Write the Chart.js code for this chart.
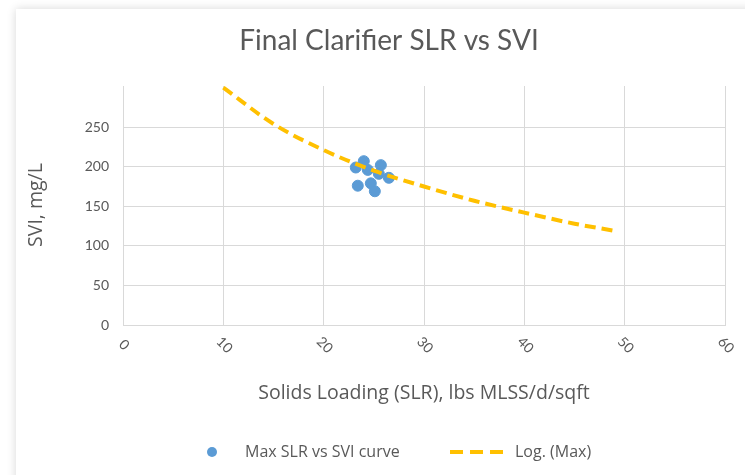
<!DOCTYPE html>
<html>
<head>
<meta charset="utf-8">
<script src="https://cdn.jsdelivr.net/npm/chart.js@4.4.1/dist/chart.umd.min.js"></script>
<style>
  html, body { margin: 0; padding: 0; background: #ffffff; overflow: hidden; }
  #card { position: absolute; left: 16px; top: 9px; width: 760px; height: 500px; background: #fff;
          box-shadow: 0 0 9px rgba(0,0,0,0.16); }
  #wrap { position: absolute; left: 0; top: 0; width: 745px; height: 475px; }
</style>
</head>
<body>
<div id="card"></div>
<div id="wrap"><canvas id="SlrSvi" width="745" height="475"></canvas></div>
<script>
// chart values
var xTickLabels = ["0", "10", "20", "30", "40", "50", "60"];
var yTickValues = [0, 50, 100, 150, 200, 250];
var slrValues = [24.0, 23.2, 24.4, 25.7, 25.5, 26.5, 23.4, 24.7, 25.1];
var sviValues = [207, 199, 196, 202, 191, 186, 176, 179, 169];
var trendSlr = [10, 15, 20, 25, 30, 35, 40, 45, 49];
var trendSvi = [300, 254, 221, 195, 175, 157, 142, 128, 119];

var txt = "#595959";
var fontFam = "Lato, 'Open Sans', sans-serif";
var labFam = "'Open Sans', Lato, sans-serif";

var points = slrValues.map(function (x, i) { return { x: x, y: sviValues[i] }; });
var trend = trendSlr.map(function (x, i) { return { x: x, y: trendSvi[i] }; });

// titles, rotated x labels and legend drawn here
var extras = {
  id: "extras",
  afterDraw: function (chart) {
    var ctx = chart.ctx;
    var xs = chart.scales.x;
    ctx.save();
    ctx.fillStyle = txt;
    ctx.textBaseline = "middle";
    ctx.textAlign = "center";

    ctx.font = "28px " + fontFam;
    ctx.fillText("Final Clarifier SLR vs SVI", 389, 41);

    ctx.font = "19.5px " + labFam;
    ctx.fillText("Solids Loading (SLR), lbs MLSS/d/sqft", 424, 393);

    ctx.save();
    ctx.translate(36, 205);
    ctx.rotate(-Math.PI / 2);
    ctx.fillText("SVI, mg/L", 0, 0);
    ctx.restore();

    ctx.font = "14px " + fontFam;
    xTickLabels.forEach(function (lab) {
      var px = xs.getPixelForValue(Number(lab));
      ctx.save();
      ctx.translate(px + 1, 345);
      ctx.rotate(Math.PI / 4);
      ctx.fillText(lab, 0, 0);
      ctx.restore();
    });

    // legend
    var ds0 = chart.data.datasets[0], ds1 = chart.data.datasets[1];
    ctx.textAlign = "left";
    ctx.font = "16px " + labFam;
    ctx.beginPath();
    ctx.arc(212, 452, 5, 0, Math.PI * 2);
    ctx.fillStyle = ds0.backgroundColor;
    ctx.fill();
    ctx.fillStyle = txt;
    ctx.fillText(ds0.label, 245, 452);

    ctx.beginPath();
    ctx.setLineDash([13, 7]);
    ctx.lineWidth = ds1.borderWidth;
    ctx.strokeStyle = ds1.borderColor;
    ctx.moveTo(450, 452);
    ctx.lineTo(506, 452);
    ctx.stroke();
    ctx.setLineDash([]);
    ctx.fillText(ds1.label, 515, 452);
    ctx.restore();
  }
};

var ctx = document.getElementById("SlrSvi").getContext("2d");
var SlrSvi = new Chart(ctx, {
  type: "scatter",
  data: {
    datasets: [
      {
        label: "Max SLR vs SVI curve",
        data: points,
        backgroundColor: "#5b9bd5",
        borderColor: "#5b9bd5",
        pointRadius: 5.5,
        pointHoverRadius: 5.5,
        order: 1
      },
      {
        label: "Log. (Max)",
        type: "line",
        data: trend,
        showLine: true,
        fill: false,
        borderColor: "#ffc000",
        borderWidth: 4,
        borderDash: [11, 6],
        pointRadius: 0,
        cubicInterpolationMode: "monotone",
        order: 0
      }
    ]
  },
  options: {
    responsive: false,
    animation: false,
    layout: { padding: { top: 86, right: 20, left: 0, bottom: 0 } },
    scales: {
      x: {
        type: "linear",
        min: 0,
        max: 60,
        afterFit: function (s) { s.height = 150; },
        afterBuildTicks: function (s) {
          s.ticks = xTickLabels.map(function (v) { return { value: Number(v) }; });
        },
        ticks: { display: false },
        grid: { color: "#d9d9d9", lineWidth: 1, drawTicks: false },
        border: { color: "#d9d9d9" }
      },
      y: {
        min: 0,
        max: 302,
        afterFit: function (s) { s.width = 123; },
        afterBuildTicks: function (s) {
          s.ticks = yTickValues.map(function (v) { return { value: v }; });
        },
        ticks: { color: txt, font: { family: fontFam, size: 14 }, padding: 14 },
        grid: { color: "#d9d9d9", lineWidth: 1, drawTicks: false },
        border: { color: "#d9d9d9" }
      }
    },
    plugins: {
      legend: { display: false },
      title: { display: false },
      tooltip: { enabled: false }
    }
  },
  plugins: [extras]
});
</script>
</body>
</html>
